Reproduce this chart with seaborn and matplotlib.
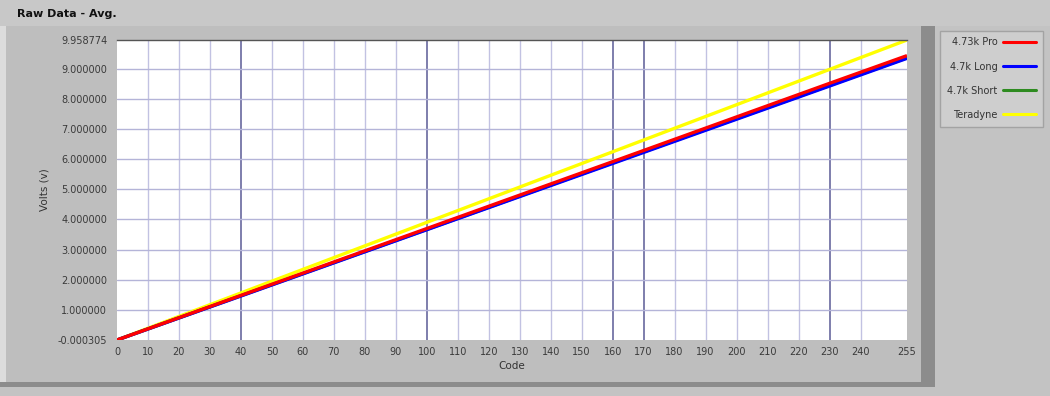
import numpy as np
import pandas as pd
import seaborn as sns
import matplotlib.pyplot as plt
from matplotlib.patches import Rectangle
from matplotlib.lines import Line2D

# values (volts at a few codes, lines are straight)
codes = [0, 40, 100, 160, 230, 255]
pro_473k = [-0.000305, 1.48, 3.70, 5.92, 8.52, 9.44]
long_47k = [-0.000305, 1.46, 3.66, 5.86, 8.43, 9.35]
short_47k = [-0.000305, 1.47, 3.67, 5.88, 8.45, 9.37]
teradyne = [-0.000305, 1.562, 3.905, 6.248, 8.982, 9.958774]

series_names = ["4.73k Pro", "4.7k Long", "4.7k Short", "Teradyne"]
series_colors = ["#ff0000", "#0000ff", "#2e8b20", "#ffff00"]

y_ticks = [-0.000305, 1, 2, 3, 4, 5, 6, 7, 8, 9, 9.958774]
x_ticks = list(range(0, 250, 10)) + [255]
major_x = [40, 100, 160, 170, 230]

df = pd.DataFrame({
    "Code": codes * 4,
    "Volts": pro_473k + long_47k + short_47k + teradyne,
    "Series": sum([[n] * len(codes) for n in series_names], []),
})

sns.set_style("white")
plt.rcParams['font.family'] = ['DejaVu Sans']

fig = plt.figure(figsize=(10.5, 3.96), dpi=100)
fig.patch.set_facecolor("#c3c3c3")

# panel frame (shadow, body, title band)
fig.add_artist(Rectangle((0.0, 0.022), 0.89, 0.92, transform=fig.transFigure,
                         facecolor="#8c8c8c", edgecolor="none", zorder=0))
fig.add_artist(Rectangle((0.0, 0.035), 0.877, 0.905, transform=fig.transFigure,
                         facecolor="#bebebe", edgecolor="none", zorder=0))
fig.add_artist(Rectangle((0.0, 0.035), 0.006, 0.905, transform=fig.transFigure,
                         facecolor="#dcdcdc", edgecolor="none", zorder=0))
fig.add_artist(Rectangle((0.0, 0.935), 1.0, 0.065, transform=fig.transFigure,
                         facecolor="#c8c8c8", edgecolor="none", zorder=0))
fig.text(0.016, 0.965, "Raw Data - Avg.", fontsize=8, fontweight="bold",
         va="center", ha="left", color="#111111")

ax = fig.add_axes([0.1114, 0.1414, 0.7524, 0.7576])
ax.set_facecolor("white")

palette = dict(zip(series_names, series_colors))
sns.lineplot(data=df, x="Code", y="Volts", hue="Series", palette=palette,
             hue_order=series_names, linewidth=2.4, legend=False, ax=ax,
             estimator=None)
# draw order: yellow at back, red on top
z = {"4.73k Pro": 5, "4.7k Long": 4, "4.7k Short": 3, "Teradyne": 2}
for line, name in zip(ax.get_lines(), series_names):
    line.set_zorder(z[name])
    line.set_solid_capstyle("butt")

ax.set_xlim(0, 255)
ax.set_ylim(-0.000305, 9.958774)
ax.set_xticks(x_ticks)
ax.set_xticklabels([str(t) for t in x_ticks])
ax.set_yticks(y_ticks)
ax.set_yticklabels(["%.6f" % t for t in y_ticks])
ax.tick_params(axis="both", labelsize=7, colors="#3a3a3a", length=3,
               width=1, direction="out", pad=2)
ax.tick_params(axis="y", length=5)

for t in x_ticks[1:-1]:
    if t in major_x:
        ax.axvline(t, color="#7474a6", lw=1.3, zorder=1)
    else:
        ax.axvline(t, color="#c2c2e2", lw=1.0, zorder=1)
for t in y_ticks[1:-1]:
    ax.axhline(t, color="#b4b4d8", lw=1.0, zorder=1)

for side in ["left", "bottom", "right"]:
    ax.spines[side].set_visible(False)
ax.spines["top"].set_color("#555555")
ax.spines["top"].set_linewidth(1.0)

ax.set_xlabel("Code", fontsize=7.5, color="#333333", labelpad=3)
ax.set_ylabel("Volts (v)", fontsize=7.5, color="#333333", labelpad=6)

# legend box on the right
handles = [Line2D([0], [0], color=c, lw=2.2) for c in series_colors]
leg = fig.legend(handles, series_names, loc="upper left",
                 bbox_to_anchor=(0.891, 0.935), markerfirst=False,
                 fontsize=7, frameon=True, handlelength=3.4,
                 handletextpad=0.6, labelspacing=1.45, borderpad=0.7,
                 fancybox=False)
leg.get_frame().set_facecolor("#d2d2d2")
leg.get_frame().set_edgecolor("#9a9a9a")
for txt in leg.get_texts():
    txt.set_color("#333333")

fig.savefig("out.png", dpi=100, facecolor=fig.get_facecolor())
